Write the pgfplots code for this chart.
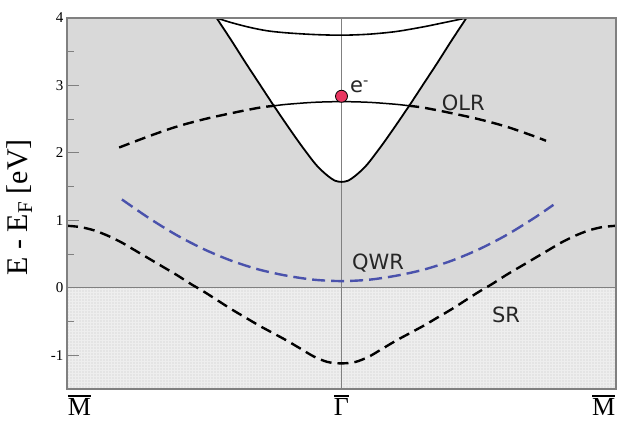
\documentclass[border=0pt]{standalone}
\usepackage{fontspec}
\setmainfont{Liberation Serif}
\newfontfamily\labelfont{DejaVu Sans}
\usepackage{pgfplots}
\pgfplotsset{compat=1.18}
\usetikzlibrary{patterns}

\definecolor{bandgray}{RGB}{217,217,217}
\definecolor{fermigray}{RGB}{228,228,228}
\definecolor{gridgray}{RGB}{238,238,238}
\definecolor{framegray}{RGB}{128,128,128}
\definecolor{qwrblue}{RGB}{74,82,172}
\definecolor{dotred}{RGB}{232,54,96}

% letter with a bar over it (high-symmetry point)
\newcommand{\hsp}[1]{\setbox0\hbox{#1}\vbox{\hrule width\wd0 height 1.6pt\kern1.8pt\box0}}

\begin{document}
\begin{tikzpicture}
\begin{axis}[
    scale only axis,
    width=549pt, height=371pt,
    xmin=-1, xmax=1, ymin=-1.5, ymax=4,
    axis on top,
    axis background/.style={fill=bandgray},
    axis line style={framegray, line width=1.2pt},
    tick style={framegray, line width=0.9pt},
    tick align=inside,
    ytick pos=left,
    major tick length=12pt, minor tick length=7pt,
    xtick={-0.955,0,0.955},
    xticklabels={\hsp{M}, \hsp{Γ}, \hsp{M}},
    xtick style={draw=none},
    xticklabel style={font=\fontsize{26}{28}\selectfont, anchor=north,
        inner sep=0pt, yshift=-6pt},
    ytick={-1,0,1,2,3,4},
    minor ytick={-0.5,0.5,1.5,2.5,3.5},
    yticklabel style={font=\fontsize{15}{18}\selectfont},
    /pgf/number format/assume math mode=true,
    ylabel={E - E\textsubscript{F} [eV]},
    ylabel style={font=\fontsize{30}{34}\selectfont,
        at={(axis description cs:-0.087,0.49)}, anchor=center},
]
% --- background regions ---
\addplot[draw=none, fill=fermigray]
    coordinates {(-1,-1.5) (1,-1.5) (1,0) (-1,0)} -- cycle;
\addplot[draw=none, pattern=grid, pattern color=gridgray]
    coordinates {(-1,-1.5) (1,-1.5) (1,0) (-1,0)} -- cycle;
\addplot[draw=none, fill=white, smooth]
    coordinates {(-0.455,4.0) (-0.4,3.66) (-0.35,3.34) (-0.3,3.03) (-0.25,2.72)
    (-0.2,2.42) (-0.15,2.13) (-0.1,1.86) (-0.075,1.75) (-0.05,1.66) (-0.025,1.59)
    (0,1.57) (0.025,1.59) (0.05,1.66) (0.075,1.75) (0.1,1.86) (0.15,2.13)
    (0.2,2.42) (0.25,2.72) (0.3,3.03) (0.35,3.34) (0.4,3.66) (0.455,4.0)} -- cycle;

% --- Gamma and Fermi level lines ---
\addplot[framegray, line width=0.8pt] coordinates {(0,-1.5) (0,4)};
\addplot[framegray, line width=0.8pt] coordinates {(-1,0) (1,0)};

% --- bulk band edges ---
\addplot[black, line width=1.8pt, smooth]
    coordinates {(-0.455,4.0) (-0.4,3.66) (-0.35,3.34) (-0.3,3.03) (-0.25,2.72)
    (-0.2,2.42) (-0.15,2.13) (-0.1,1.86) (-0.075,1.75) (-0.05,1.66) (-0.025,1.59)
    (0,1.57) (0.025,1.59) (0.05,1.66) (0.075,1.75) (0.1,1.86) (0.15,2.13)
    (0.2,2.42) (0.25,2.72) (0.3,3.03) (0.35,3.34) (0.4,3.66) (0.455,4.0)};
\addplot[black, line width=1.6pt, smooth]
    coordinates {(-0.455,4.0) (-0.4,3.93) (-0.333,3.86) (-0.27,3.81) (-0.2,3.78)
    (-0.1,3.755) (0,3.745) (0.1,3.76) (0.2,3.80) (0.3,3.87) (0.36,3.92) (0.455,4.0)};

% --- OLR ---
\addplot[black, line width=2.4pt, dash pattern=on 11pt off 6pt, smooth]
    coordinates {(-0.81,2.08) (-0.7,2.25) (-0.6,2.39) (-0.5,2.50) (-0.4,2.59)
    (-0.3,2.67) (-0.242,2.70)};
\addplot[black, line width=1.5pt, smooth]
    coordinates {(-0.242,2.70) (-0.2,2.72) (-0.1,2.75) (0,2.76) (0.1,2.75)
    (0.2,2.72) (0.243,2.70)};
\addplot[black, line width=2.4pt, dash pattern=on 11pt off 6pt, smooth]
    coordinates {(0.243,2.70) (0.3,2.67) (0.4,2.59) (0.5,2.50) (0.6,2.39)
    (0.7,2.25) (0.745,2.18)};

% --- QWR ---
\addplot[qwrblue, line width=2.4pt, dash pattern=on 13pt off 6pt, smooth]
    coordinates {(-0.8,1.31) (-0.7,1.03) (-0.6,0.78) (-0.5,0.57) (-0.4,0.40)
    (-0.3,0.27) (-0.2,0.18) (-0.1,0.12) (0,0.10) (0.1,0.12) (0.2,0.18)
    (0.3,0.27) (0.4,0.40) (0.5,0.57) (0.6,0.78) (0.7,1.03) (0.772,1.23)};

% --- SR ---
\addplot[black, line width=2.4pt, dash pattern=on 11pt off 6pt, smooth]
    coordinates {(-1,0.92) (-0.95,0.90) (-0.9,0.85) (-0.85,0.77) (-0.8,0.67)
    (-0.75,0.55) (-0.7,0.43) (-0.65,0.31) (-0.6,0.19) (-0.55,0.06) (-0.5,-0.06)
    (-0.45,-0.19) (-0.4,-0.32) (-0.35,-0.44) (-0.3,-0.56) (-0.25,-0.67)
    (-0.2,-0.78) (-0.15,-0.90) (-0.1,-1.02) (-0.05,-1.10) (0,-1.12)
    (0.05,-1.10) (0.1,-1.02) (0.15,-0.90) (0.2,-0.78) (0.25,-0.67) (0.3,-0.56)
    (0.35,-0.44) (0.4,-0.32) (0.45,-0.19) (0.5,-0.06) (0.55,0.06) (0.6,0.19)
    (0.65,0.31) (0.7,0.43) (0.75,0.55) (0.8,0.67) (0.85,0.77) (0.9,0.85)
    (0.95,0.90) (1,0.92)};

% --- electron ---
\addplot[only marks, mark=*, mark size=6pt,
    mark options={fill=dotred, draw=black, line width=0.8pt}]
    coordinates {(0,2.84)};

% --- annotations ---
\node[anchor=base west, inner sep=0pt, text=black!85,
    font=\labelfont\fontsize{21}{24}\selectfont] at (axis cs:0.031,2.89) {e\textsuperscript{-}};
\node[anchor=base west, inner sep=0pt, text=black!85,
    font=\labelfont\fontsize{21}{24}\selectfont] at (axis cs:0.365,2.63) {OLR};
\node[anchor=base west, inner sep=0pt, text=black!85,
    font=\labelfont\fontsize{21}{24}\selectfont] at (axis cs:0.038,0.266) {QWR};
\node[anchor=base west, inner sep=0pt, text=black!85,
    font=\labelfont\fontsize{21}{24}\selectfont] at (axis cs:0.548,-0.52) {SR};

\path (rel axis cs:0,0) coordinate (bl);
\path (rel axis cs:1,1) coordinate (tr);
\end{axis}
\pgfresetboundingbox
\path[use as bounding box] ([shift={(-67pt,-32pt)}]bl) rectangle ([shift={(1pt,18pt)}]tr);
\end{tikzpicture}
\end{document}
